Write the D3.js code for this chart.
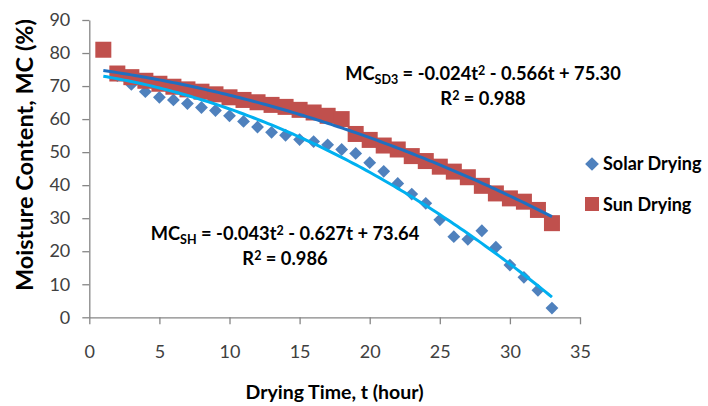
<!DOCTYPE html>
<html>
<head>
<meta charset="utf-8">
<script src="https://cdn.jsdelivr.net/npm/d3@7"></script>
<style>
  html, body { margin: 0; padding: 0; background: #fff; }
  svg { display: block; }
  text { font-family: Lato, "Open Sans", sans-serif; }
</style>
</head>
<body>
<svg id="chart" width="708" height="406"></svg>
<script>
// ---- data ----
const hours = d3.range(1, 34);
const solarDrying = [80.8, 73.2, 70.5, 68.3, 66.6, 65.8, 64.7, 63.5, 62.6, 61.0, 59.3, 57.6, 56.0, 55.1, 53.8, 53.2, 52.2, 50.8, 49.6, 46.8, 44.2, 40.5, 37.3, 34.5, 29.5, 24.4, 23.6, 26.2, 21.2, 15.8, 12.1, 8.2, 2.8];
const sunDrying = [81.0, 73.8, 72.7, 71.6, 70.7, 69.8, 69.0, 68.3, 67.5, 66.6, 65.8, 65.1, 64.3, 63.7, 62.8, 62.0, 61.0, 60.0, 55.5, 53.7, 52.0, 50.8, 48.8, 47.3, 45.6, 44.1, 42.4, 39.8, 37.5, 36.0, 35.0, 32.5, 28.5];
// trendline coefficients [a, b, c] for a*t^2 + b*t + c
const solarFit = [-0.043, -0.627, 73.64];
const sunFit = [-0.024, -0.566, 75.30];
const xTicks = [0, 5, 10, 15, 20, 25, 30, 35];
const yTicks = [0, 10, 20, 30, 40, 50, 60, 70, 80, 90];
const seriesNames = ["Solar Drying", "Sun Drying"];

// ---- layout ----
const svg = d3.select("#chart");
const x = d3.scaleLinear().domain([0, 35]).range([89.3, 580]);
const y = d3.scaleLinear().domain([0, 90]).range([317.3, 20]);
const axisColor = "#868686";
const labelColor = "#404040";
const solarColor = "#4F81BD";
const sunColor = "#C0504D";

// axes
const gx = svg.append("g").attr("transform", `translate(0,${y(0)})`)
  .call(d3.axisBottom(x).tickValues(xTicks).tickSize(7).tickPadding(21).tickSizeOuter(0));
const gy = svg.append("g").attr("transform", `translate(${x(0)},0)`)
  .call(d3.axisLeft(y).tickValues(yTicks).tickSize(7).tickPadding(12).tickSizeOuter(0));
[gx, gy].forEach(g => {
  g.select(".domain").attr("stroke", axisColor).attr("stroke-width", 1.3);
  g.selectAll(".tick line").attr("stroke", axisColor).attr("stroke-width", 1.3);
  g.selectAll(".tick text").attr("fill", labelColor).attr("font-size", 18)
    .attr("font-family", "Lato, 'Open Sans', sans-serif");
});

// markers
const solarPts = hours.map((t, i) => ({t, v: solarDrying[i]}));
const sunPts = hours.map((t, i) => ({t, v: sunDrying[i]}));
const diamond = d3.symbol().type(d3.symbolDiamond2).size(105);
svg.append("g").selectAll("path").data(solarPts).join("path")
  .attr("d", diamond)
  .attr("transform", d => `translate(${x(d.t)},${y(d.v)})`)
  .attr("fill", solarColor);
const sq = 16;
svg.append("g").selectAll("rect").data(sunPts).join("rect")
  .attr("x", d => x(d.t) - sq / 2).attr("y", d => y(d.v) - sq / 2)
  .attr("width", sq).attr("height", sq)
  .attr("fill", sunColor);

// trendlines
const poly = (c, t) => c[0] * t * t + c[1] * t + c[2];
const ts = d3.range(1, 33.01, 0.25);
const line = d3.line().x(d => x(d.t)).y(d => y(d.v));
svg.append("path").datum(ts.map(t => ({t, v: poly(solarFit, t)})))
  .attr("d", line).attr("fill", "none").attr("stroke", "#00B0F0").attr("stroke-width", 3);
svg.append("path").datum(ts.map(t => ({t, v: poly(sunFit, t)})))
  .attr("d", line).attr("fill", "none").attr("stroke", "#1F70C1").attr("stroke-width", 3);

// equations
function equation(xc, yBase, sub, rest, r2) {
  const t1 = svg.append("text").attr("x", xc).attr("y", yBase)
    .attr("text-anchor", "middle").attr("font-weight", 700).attr("font-size", 18.3).attr("fill", "#000");
  t1.append("tspan").text("MC");
  t1.append("tspan").text(sub).attr("font-size", 12.5).attr("dy", 4);
  t1.append("tspan").text(" = " + rest[0]).attr("dy", -4);
  t1.append("tspan").text("2").attr("font-size", 12.5).attr("dy", -5);
  t1.append("tspan").text(" - " + rest[1]).attr("dy", 5);
  const t2 = svg.append("text").attr("x", xc).attr("y", yBase + 25)
    .attr("text-anchor", "middle").attr("font-weight", 700).attr("font-size", 18.3).attr("fill", "#000");
  t2.append("tspan").text("R");
  t2.append("tspan").text("2").attr("font-size", 12.5).attr("dy", -5);
  t2.append("tspan").text(" = " + r2).attr("dy", 5);
}
equation(483, 80, "SD3", ["-0.024t", "0.566t + 75.30"], "0.988");
equation(285, 240, "SH", ["-0.043t", "0.627t + 73.64"], "0.986");

// legend
const lg = svg.append("g");
lg.append("path").attr("d", d3.symbol().type(d3.symbolDiamond2).size(120))
  .attr("transform", "translate(592,164)").attr("fill", solarColor);
lg.append("rect").attr("x", 585).attr("y", 197).attr("width", 14).attr("height", 14).attr("fill", sunColor);
lg.selectAll("text").data(seriesNames).join("text")
  .attr("x", 603).attr("y", (d, i) => 170 + i * 41)
  .attr("font-weight", 700).attr("font-size", 18).attr("fill", "#000")
  .text(d => d);

// axis titles
svg.append("text").attr("x", 334.5).attr("y", 399).attr("text-anchor", "middle")
  .attr("font-weight", 700).attr("font-size", 19.5).text("Drying Time, t (hour)");
svg.append("text").attr("transform", "translate(33,155) rotate(-90)").attr("text-anchor", "middle")
  .attr("font-weight", 700).attr("font-size", 23.5).text("Moisture Content, MC (%)");
</script>
</body>
</html>
